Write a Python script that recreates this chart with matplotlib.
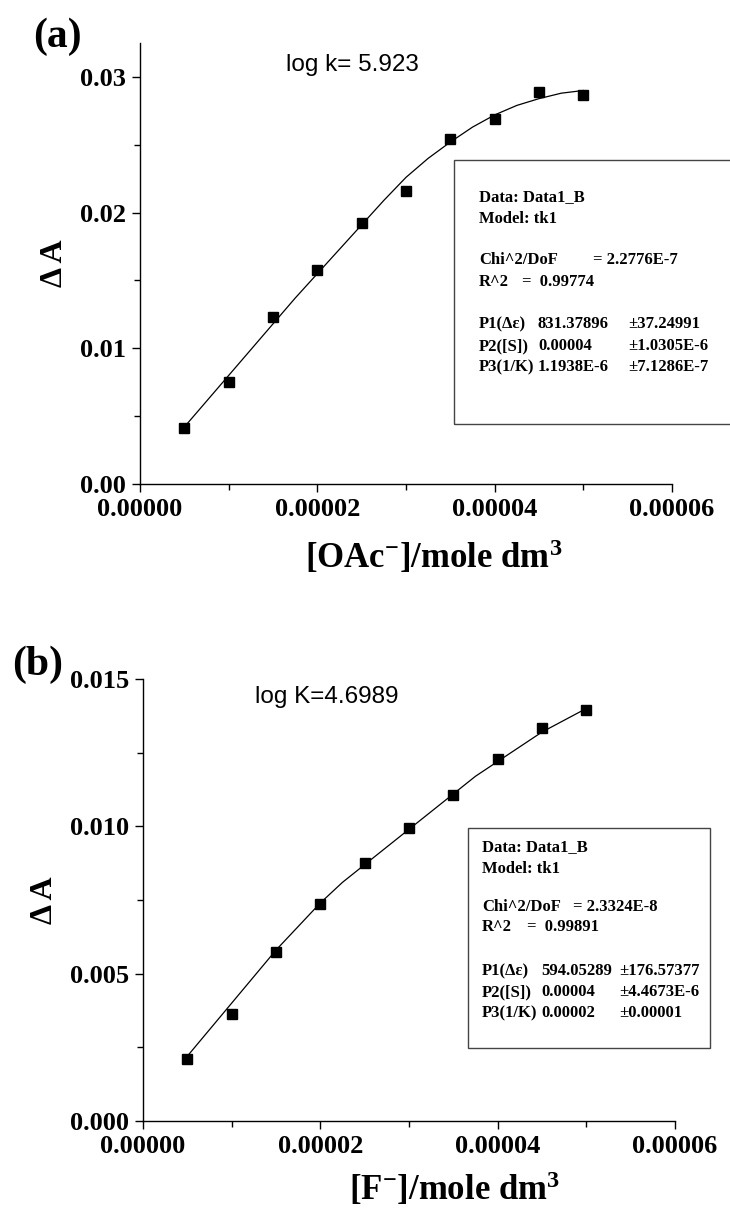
import matplotlib
matplotlib.use('Agg')
import matplotlib.pyplot as plt
from matplotlib.patches import Rectangle
from matplotlib.ticker import MultipleLocator, FormatStrFormatter

W, H = 730, 1209

# ---------------- data ----------------
conc = [5e-6, 1e-5, 1.5e-5, 2e-5, 2.5e-5, 3e-5, 3.5e-5, 4e-5, 4.5e-5, 5e-5]
dA_oac = [0.0041, 0.0075, 0.0123, 0.0158, 0.0192, 0.0216, 0.0254, 0.0269, 0.0289, 0.0287]
dA_f = [0.00212, 0.00364, 0.00574, 0.00738, 0.00876, 0.00993, 0.01107, 0.01227, 0.01333, 0.01394]

fit_x = [5e-6, 7.5e-6, 1e-5, 1.25e-5, 1.5e-5, 1.75e-5, 2e-5, 2.25e-5, 2.5e-5, 2.75e-5,
         3e-5, 3.25e-5, 3.5e-5, 3.75e-5, 4e-5, 4.25e-5, 4.5e-5, 4.75e-5, 5e-5]
fit_oac = [0.0042, 0.0061, 0.0080, 0.0099, 0.0118, 0.0137, 0.0155, 0.0173, 0.0191, 0.0209,
           0.0226, 0.0240, 0.0252, 0.0263, 0.0272, 0.0279, 0.0284, 0.0288, 0.0290]
fit_f = [0.0022, 0.0031, 0.0040, 0.0049, 0.0058, 0.0066, 0.0074, 0.0081, 0.0087, 0.0093,
         0.0099, 0.0105, 0.0111, 0.0117, 0.0122, 0.0127, 0.0132, 0.0136, 0.0140]

xticks = [0, 2e-5, 4e-5, 6e-5]

legend_a = [
    ("Data: Data1_B", None, None),
    ("Model: tk1", None, None),
    ("Chi^2/DoF", "= 2.2776E-7", None),
    ("R^2", "=  0.99774", None),
    ("P1(\u0394\u03b5)", "831.37896", "\u00b137.24991"),
    ("P2([S])", "0.00004", "\u00b11.0305E-6"),
    ("P3(1/K)", "1.1938E-6", "\u00b17.1286E-7"),
]
legend_b = [
    ("Data: Data1_B", None, None),
    ("Model: tk1", None, None),
    ("Chi^2/DoF", "= 2.3324E-8", None),
    ("R^2", "=  0.99891", None),
    ("P1(\u0394\u03b5)", "594.05289", "\u00b1176.57377"),
    ("P2([S])", "0.00004", "\u00b14.4673E-6"),
    ("P3(1/K)", "0.00002", "\u00b10.00001"),
]

# ---------------- style ----------------
plt.rcParams['font.family'] = ['Liberation Serif', 'DejaVu Serif']
plt.rcParams['font.weight'] = 'bold'
plt.rcParams['mathtext.fontset'] = 'custom'
plt.rcParams['mathtext.rm'] = 'Liberation Serif:bold'
plt.rcParams['mathtext.bf'] = 'Liberation Serif:bold'
plt.rcParams['mathtext.it'] = 'Liberation Serif:bold'

fig = plt.figure(figsize=(W / 100, H / 100), dpi=100)


def fpos(x, y):
    return x / W, 1 - y / H


def make_axes(left, top, right, bottom):
    l, t = fpos(left, top)
    r, b = fpos(right, bottom)
    return fig.add_axes([l, b, r - l, t - b])


def style_axes(ax, ymax, ymajor, yminor, yfmt):
    ax.set_xlim(0, 6e-5)
    ax.set_ylim(0, ymax)
    ax.spines['top'].set_visible(False)
    ax.spines['right'].set_visible(False)
    for s in ('left', 'bottom'):
        ax.spines[s].set_linewidth(1.0)
    ax.set_xticks(xticks)
    ax.xaxis.set_minor_locator(MultipleLocator(1e-5))
    ax.xaxis.set_major_formatter(FormatStrFormatter('%.5f'))
    ax.yaxis.set_major_locator(MultipleLocator(ymajor))
    ax.yaxis.set_minor_locator(MultipleLocator(yminor))
    ax.yaxis.set_major_formatter(FormatStrFormatter(yfmt))
    ax.tick_params(which='major', direction='out', length=6, width=1.0,
                   labelsize=19, pad=4)
    ax.tick_params(which='minor', direction='out', length=4, width=1.0)
    for lab in ax.get_xticklabels() + ax.get_yticklabels():
        lab.set_fontweight('bold')


def draw_legend(rows, box, x0, x1, x2, ys):
    l, t, r, b = box
    fl, fb = fpos(l, b)
    fr, ft = fpos(r, t)
    fig.patches.append(Rectangle((fl, fb), fr - fl, ft - fb, transform=fig.transFigure,
                                 fill=False, edgecolor='#444444', linewidth=1.0))
    for (c0, c1, c2), y in zip(rows, ys):
        fig.text(*fpos(x0, y), c0, fontsize=12, fontweight='bold', va='center', ha='left')
        if c1 is not None:
            if c1.startswith('='):
                xx = x1[0] if 'Chi' in c0 else x1[1]
            else:
                xx = x1[2]
            fig.text(*fpos(xx, y), c1, fontsize=12, fontweight='bold', va='center', ha='left')
        if c2 is not None:
            fig.text(*fpos(x2, y), c2, fontsize=12, fontweight='bold', va='center', ha='left')


# ---------------- panel (a) ----------------
ax1 = make_axes(140, 43, 672, 484)
style_axes(ax1, 0.0325, 0.01, 0.005, '%.2f')
ax1.plot(fit_x, fit_oac, color='black', linewidth=0.9)
ax1.plot(conc, dA_oac, 's', color='black', markersize=7.5)
ax1.set_ylabel('\u0394 A', fontsize=23, fontweight='bold', labelpad=8)
fig.text(*fpos(434, 568), r'[OAc$^{\mathbf{-}}$]/mole dm$^{\mathbf{3}}$', fontsize=25,
         fontweight='bold', ha='center', va='baseline')
fig.text(*fpos(33, 37), '(a)', fontsize=30, fontweight='bold', va='center', ha='left')
fig.text(*fpos(286, 65), 'log k= 5.923', fontsize=17.5, family='Liberation Sans',
         fontweight='normal', va='center', ha='left')
draw_legend(legend_a, (454, 160, 745, 424), 479, (593, 522, 538), 628,
            [197, 219, 260, 282, 324, 346, 367])

# ---------------- panel (b) ----------------
ax2 = make_axes(143, 679, 675, 1121)
style_axes(ax2, 0.015, 0.005, 0.0025, '%.3f')
ax2.plot(fit_x, fit_f, color='black', linewidth=0.9)
ax2.plot(conc, dA_f, 's', color='black', markersize=7.5)
ax2.set_ylabel('\u0394 A', fontsize=23, fontweight='bold', labelpad=8)
fig.text(*fpos(455, 1200), r'[F$^{\mathbf{-}}$]/mole dm$^{\mathbf{3}}$', fontsize=25,
         fontweight='bold', ha='center', va='baseline')
fig.text(*fpos(12, 665), '(b)', fontsize=30, fontweight='bold', va='center', ha='left')
fig.text(*fpos(255, 697), 'log K=4.6989', fontsize=17.5, family='Liberation Sans',
         fontweight='normal', va='center', ha='left')
draw_legend(legend_b, (468, 828, 710, 1048), 482, (573, 527, 541), 619,
            [847, 869, 907, 927, 971, 992, 1013])

fig.savefig('out.png', dpi=100)
